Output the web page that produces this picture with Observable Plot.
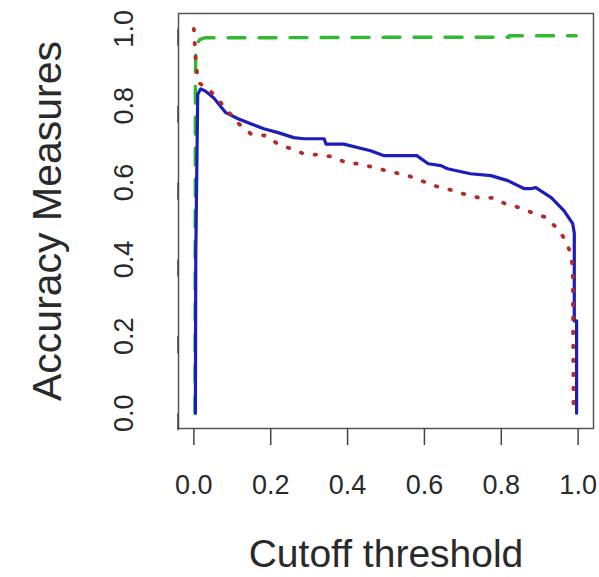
<!DOCTYPE html>
<html>
<head>
<meta charset="utf-8">
<script src="https://cdn.jsdelivr.net/npm/d3@7"></script>
<script src="https://cdn.jsdelivr.net/npm/@observablehq/plot@0.6"></script>
<style>
  html, body { margin: 0; padding: 0; background: #fff; }
  #chart svg { display: block; }
</style>
</head>
<body>
<div id="chart"></div>
<script>
// Tick values
const xTicks = [0, 0.2, 0.4, 0.6, 0.8, 1.0];
const yTicks = [0, 0.2, 0.4, 0.6, 0.8, 1.0];

// Blue solid series
const blueX = [0.004, 0.005, 0.010, 0.018, 0.030, 0.052, 0.083, 0.115, 0.148, 0.182, 0.219, 0.26, 0.286, 0.339, 0.344, 0.39, 0.46, 0.495, 0.58, 0.61, 0.643, 0.66, 0.72, 0.773, 0.817, 0.86, 0.875, 0.89, 0.93, 0.963, 0.986, 0.99, 0.99, 0.996, 0.996];
const blueY = [0.0, 0.42, 0.83, 0.844, 0.838, 0.82, 0.782, 0.766, 0.753, 0.74, 0.73, 0.717, 0.714, 0.714, 0.70, 0.70, 0.683, 0.67, 0.67, 0.649, 0.644, 0.636, 0.623, 0.618, 0.605, 0.584, 0.584, 0.587, 0.561, 0.527, 0.493, 0.468, 0.24, 0.24, 0.0];

// Red dotted series
const redX = [0.0, 0.003, 0.005, 0.012, 0.036, 0.06, 0.085, 0.117, 0.148, 0.188, 0.219, 0.253, 0.286, 0.325, 0.362, 0.396, 0.435, 0.48, 0.557, 0.625, 0.664, 0.70, 0.74, 0.78, 0.81, 0.846, 0.88, 0.917, 0.943, 0.964, 0.98, 0.986, 0.987, 0.988];
const redY = [1.0, 0.95, 0.91, 0.86, 0.845, 0.82, 0.79, 0.753, 0.727, 0.722, 0.70, 0.688, 0.675, 0.672, 0.667, 0.652, 0.648, 0.636, 0.618, 0.592, 0.582, 0.571, 0.561, 0.56, 0.545, 0.535, 0.522, 0.509, 0.483, 0.455, 0.418, 0.38, 0.2, 0.0];

// Green dashed series
const greenX = [0.003, 0.004, 0.005, 0.008, 0.015, 0.03, 0.2, 0.5, 0.82, 0.82, 0.995];
const greenY = [0.0, 0.88, 0.93, 0.96, 0.972, 0.977, 0.977, 0.978, 0.978, 0.982, 0.982];

const xTitle = "Cutoff threshold";
const yTitle = "Accuracy Measures";

const toRows = (xs, ys) => xs.map((x, i) => ({x, y: ys[i]}));
const blue = toRows(blueX, blueY);
const red = toRows(redX, redY);
const green = toRows(greenX, greenY);

const fmt = d3.format(".1f");
const textColor = "#2a2a2a";

const chart = Plot.plot({
  width: 599,
  height: 577,
  marginLeft: 178,
  marginRight: 6,
  marginTop: 13,
  marginBottom: 149,
  style: {fontFamily: "'Liberation Sans', Arial, sans-serif", background: "#fff", color: textColor},
  x: {domain: [-0.04, 1.04]},
  y: {domain: [-0.04, 1.04]},
  marks: [
    Plot.line(green, {x: "x", y: "y", stroke: "#33b833", strokeWidth: 3.4, strokeDasharray: "17 14", curve: "linear"}),
    Plot.line(blue, {x: "x", y: "y", stroke: "#1d1db8", strokeWidth: 3.2, curve: "linear"}),
    Plot.line(red, {x: "x", y: "y", stroke: "#b52a2a", strokeWidth: 3.8, strokeDasharray: "1.5 12.5", strokeLinecap: "round", curve: "linear"}),
    Plot.frame({stroke: "#555", strokeWidth: 1.5}),
    Plot.axisX({ticks: xTicks, tickFormat: fmt, tickSize: 17, tickPadding: 29, fontSize: 27, label: null, stroke: "#444", strokeWidth: 1.5, fill: textColor}),
    Plot.axisY({ticks: yTicks, tickFormat: fmt, tickSize: 17, tickPadding: 37, fontSize: 27, label: null, rotate: -90, textAnchor: "middle", stroke: "#444", strokeWidth: 1.5, fill: textColor}),
    Plot.text([xTitle], {frameAnchor: "bottom", textAnchor: "middle", dy: 138, fontSize: 39, fill: textColor}),
    Plot.text([yTitle], {frameAnchor: "left", textAnchor: "middle", lineAnchor: "middle", dx: -131, rotate: -90, fontSize: 41, fill: textColor})
  ]
});
document.getElementById("chart").appendChild(chart);
</script>
</body>
</html>
